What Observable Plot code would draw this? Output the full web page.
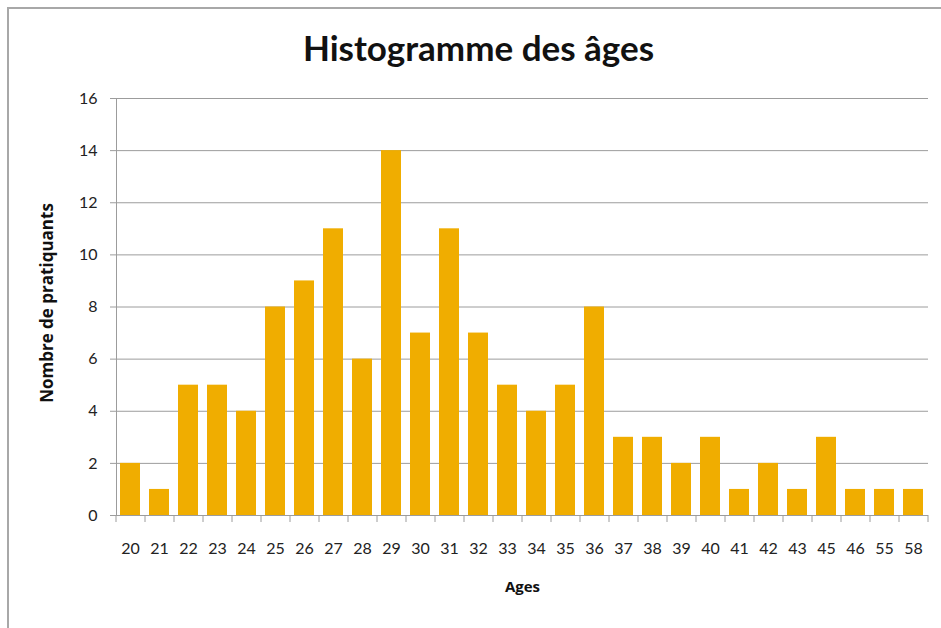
<!DOCTYPE html>
<html><head><meta charset="utf-8">
<script src="https://cdn.jsdelivr.net/npm/d3@7"></script>
<script src="https://cdn.jsdelivr.net/npm/@observablehq/plot@0.6"></script>
<style>
html,body{margin:0;padding:0;background:#fff;overflow:hidden}
#chart{position:absolute;left:0;top:0}
#border{position:absolute;left:7px;top:7px;width:1000px;height:1000px;border-left:2px solid #a8a8a8;border-top:2px solid #a8a8a8}
</style></head><body>
<div id="border"></div><div id="chart"></div>
<script>
const ages = ["20","21","22","23","24","25","26","27","28","29","30","31","32","33","34","35","36","37","38","39","40","41","42","43","45","46","55","58"];
const counts = [2,1,5,5,4,8,9,11,6,14,7,11,7,5,4,5,8,3,3,2,3,1,2,1,3,1,1,1];
const yTicks = [0,2,4,6,8,10,12,14,16];
const title = "Histogramme des âges";
const xLabel = "Ages";
const yLabel = "Nombre de pratiquants";
const data = ages.map((a,i)=>({age:a,count:counts[i]}));
const W=941,H=628,mL=116,mR=13,mT=98,mB=113;
const step=(W-mL-mR)/ages.length;
const font = "Lato, 'Open Sans', sans-serif";
const labelFont = "'Open Sans', sans-serif";
const grey = "#9c9c9c";
const plot = Plot.plot({
  width:W,height:H,marginLeft:mL,marginRight:mR,marginTop:mT,marginBottom:mB,
  style:{fontFamily:font,fontSize:"16px",color:"#222",background:"transparent"},
  x:{domain:ages,paddingInner:0.3,paddingOuter:0.15,label:null},
  y:{domain:[0,16],label:null},
  marks:[
    Plot.gridY(yTicks,{stroke:grey,strokeOpacity:1}),
    Plot.barY(data,{x:"age",y:"count",fill:"#f0ad00"}),
    Plot.ruleY([0],{stroke:grey}),
    Plot.frame({anchor:"left",stroke:grey}),
    Plot.axisY(yTicks,{tickSize:6,tickPadding:13,stroke:grey,fill:"#222",label:null}),
    Plot.axisX({tickSize:7,tickFormat:()=>"",dx:-step/2,stroke:grey,label:null}),
    Plot.axisX([ages[ages.length-1]],{tickSize:7,tickFormat:()=>"",dx:step/2,stroke:grey,label:null}),
    Plot.axisX({tickSize:0,tickPadding:27,fill:"#222",label:null}),
    Plot.text([title],{frameAnchor:"top",dx:-44,dy:-62,fontSize:35,fontWeight:"bold",fill:"#111"}),
    Plot.text([yLabel],{frameAnchor:"left",textAnchor:"middle",dx:-69,dy:-4,rotate:-90,fontSize:17,fontWeight:"bold",fontFamily:labelFont,fill:"#111"}),
    Plot.text([xLabel],{frameAnchor:"bottom",dy:76,fontSize:15,fontWeight:"bold",fontFamily:labelFont,fill:"#111"})
  ]
});
document.getElementById("chart").append(plot);
</script>
</body></html>
